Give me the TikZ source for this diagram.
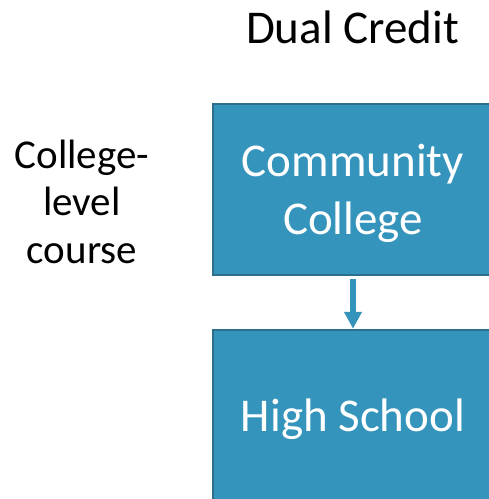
\documentclass[tikz,border=0pt]{standalone}
\usepackage{fontspec}
\setmainfont{Carlito}
\usetikzlibrary{arrows.meta}
\definecolor{boxteal}{RGB}{53,148,187}
\definecolor{boxedge}{RGB}{44,110,140}

\tikzset{
  levelbox/.style={draw=boxedge, line width=2.5pt, fill=boxteal,
    minimum width=280pt, minimum height=171pt},
  boxtext/.style={text=white, align=center, yshift=-4pt,
    font=\fontsize{47}{58}\selectfont},
  flowarrow/.style={draw=boxteal, line width=6pt,
    -{Triangle[width=17pt,length=17pt]}},
  caption/.style={font=\fontsize{47}{57}\selectfont},
  sidenote/.style={align=center, font=\fontsize{41}{47.5}\selectfont}
}

\begin{document}
\begin{tikzpicture}[x=1pt,y=-1pt]
\useasboundingbox (0,0) rectangle (489,499);
\clip (0,0) rectangle (489,499);

% column heading and the note on the left
\node[caption, anchor=base] (title) at (352.5,43) {Dual Credit};
\node[sidenote, anchor=base] (course) at (82,263) {College-\\level\\course};

% the two boxes and the link between them
\node[levelbox] (cc) at (353,189.5) {};
\node[boxtext] (cctext) at (cc.center) {Community\\College};
\node[levelbox] (hs) at (353,415.5) {};
\node[boxtext] (hstext) at (hs.center) {High School};
\draw[flowarrow] ([yshift=-3pt]cc.south) -- (hs.north);
\end{tikzpicture}
\end{document}
